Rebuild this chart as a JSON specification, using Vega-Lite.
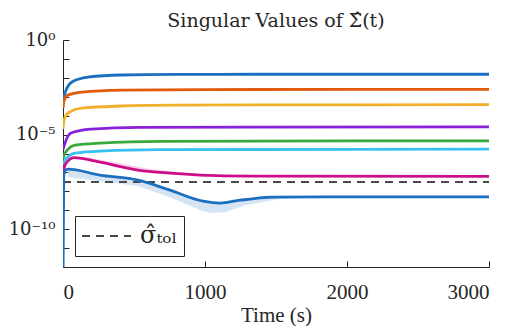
{
  "$schema": "https://vega.github.io/schema/vega-lite/v6.json",
  "width": 426,
  "height": 227,
  "autosize": {"type": "none"},
  "padding": {"left": 63, "top": 40, "right": 24, "bottom": 59},
  "background": "white",
  "config": {
    "view": {"stroke": null},
    "font": "Liberation Serif",
    "axis": {
      "grid": false,
      "domainColor": "#262626",
      "tickColor": "#262626",
      "labelColor": "#262626",
      "titleColor": "#262626",
      "labelFont": "Liberation Serif",
      "titleFont": "Liberation Serif",
      "labelFontSize": 21,
      "titleFontSize": 21,
      "titleFontWeight": "normal",
      "tickSize": -6,
      "domainWidth": 1,
      "tickWidth": 1
    }
  },
  "title": {
    "text": "Singular Values of Σ̂(t)",
    "font": "DejaVu Serif",
    "fontSize": 19,
    "fontWeight": "normal",
    "color": "#262626",
    "offset": 0
  },
  "datasets": {
    "lines": [
      {"series": "s1", "t": 0, "v": 3.98e-4}, {"series": "s1", "t": 14, "v": 1.585e-3}, {"series": "s1", "t": 63, "v": 6.03e-3}, {"series": "s1", "t": 176, "v": 1.096e-2}, {"series": "s1", "t": 415, "v": 1.413e-2}, {"series": "s1", "t": 800, "v": 1.514e-2}, {"series": "s1", "t": 1500, "v": 1.549e-2}, {"series": "s1", "t": 3000, "v": 1.549e-2},
      {"series": "s2", "t": 0, "v": 2.51e-4}, {"series": "s2", "t": 8, "v": 6.31e-4}, {"series": "s2", "t": 35, "v": 1.23e-3}, {"series": "s2", "t": 134, "v": 1.778e-3}, {"series": "s2", "t": 415, "v": 2.239e-3}, {"series": "s2", "t": 1000, "v": 2.399e-3}, {"series": "s2", "t": 3000, "v": 2.455e-3},
      {"series": "s3", "t": 0, "v": 2.0e-5}, {"series": "s3", "t": 8, "v": 6.31e-5}, {"series": "s3", "t": 35, "v": 1.38e-4}, {"series": "s3", "t": 134, "v": 2.51e-4}, {"series": "s3", "t": 415, "v": 3.236e-4}, {"series": "s3", "t": 790, "v": 3.63e-4}, {"series": "s3", "t": 3000, "v": 3.80e-4},
      {"series": "s4", "t": 0, "v": 1.585e-6}, {"series": "s4", "t": 14, "v": 3.55e-6}, {"series": "s4", "t": 56, "v": 1.202e-5}, {"series": "s4", "t": 197, "v": 1.95e-5}, {"series": "s4", "t": 542, "v": 2.40e-5}, {"series": "s4", "t": 3000, "v": 2.57e-5},
      {"series": "s5", "t": 0, "v": 5.0e-7}, {"series": "s5", "t": 14, "v": 1.047e-6}, {"series": "s5", "t": 85, "v": 2.754e-6}, {"series": "s5", "t": 260, "v": 3.548e-6}, {"series": "s5", "t": 700, "v": 4.365e-6}, {"series": "s5", "t": 3000, "v": 4.677e-6},
      {"series": "s6", "t": 0, "v": 2.51e-7}, {"series": "s6", "t": 14, "v": 4.47e-7}, {"series": "s6", "t": 85, "v": 1.047e-6}, {"series": "s6", "t": 260, "v": 1.349e-6}, {"series": "s6", "t": 700, "v": 1.585e-6}, {"series": "s6", "t": 3000, "v": 1.698e-6},
      {"series": "s7", "t": 0, "v": 6.31e-8}, {"series": "s7", "t": 14, "v": 2.455e-7}, {"series": "s7", "t": 77, "v": 6.03e-7}, {"series": "s7", "t": 260, "v": 3.467e-7}, {"series": "s7", "t": 528, "v": 1.318e-7}, {"series": "s7", "t": 754, "v": 9.12e-8}, {"series": "s7", "t": 965, "v": 7.24e-8}, {"series": "s7", "t": 1317, "v": 6.31e-8}, {"series": "s7", "t": 3000, "v": 6.17e-8},
      {"series": "s8", "t": 0, "v": 1e-13}, {"series": "s8", "t": 5, "v": 6.31e-8}, {"series": "s8", "t": 15, "v": 1.26e-7}, {"series": "s8", "t": 35, "v": 1.479e-7}, {"series": "s8", "t": 260, "v": 7.24e-8}, {"series": "s8", "t": 528, "v": 3.89e-8}, {"series": "s8", "t": 754, "v": 1.148e-8}, {"series": "s8", "t": 986, "v": 3.02e-9}, {"series": "s8", "t": 1106, "v": 2.40e-9}, {"series": "s8", "t": 1246, "v": 3.39e-9}, {"series": "s8", "t": 1479, "v": 4.90e-9}, {"series": "s8", "t": 2000, "v": 5.13e-9}, {"series": "s8", "t": 3000, "v": 5.13e-9}
    ],
    "bands": [
      {"band": "b", "t": 35, "lo": 5.62e-8, "hi": 1.66e-7},
      {"band": "b", "t": 260, "lo": 3.47e-8, "hi": 8.13e-8},
      {"band": "b", "t": 528, "lo": 1.905e-8, "hi": 4.37e-8},
      {"band": "b", "t": 754, "lo": 4.90e-9, "hi": 1.288e-8},
      {"band": "b", "t": 986, "lo": 8.91e-10, "hi": 3.39e-9},
      {"band": "b", "t": 1050, "lo": 7.08e-10, "hi": 2.82e-9},
      {"band": "b", "t": 1140, "lo": 7.94e-10, "hi": 2.69e-9},
      {"band": "b", "t": 1280, "lo": 1.862e-9, "hi": 3.80e-9},
      {"band": "b", "t": 1530, "lo": 3.89e-9, "hi": 5.50e-9},
      {"band": "b", "t": 1800, "lo": 5.01e-9, "hi": 5.62e-9},
      {"band": "m", "t": 77, "lo": 5.75e-7, "hi": 6.31e-7},
      {"band": "m", "t": 200, "lo": 3.98e-7, "hi": 5.62e-7},
      {"band": "m", "t": 400, "lo": 2.0e-7, "hi": 3.02e-7},
      {"band": "m", "t": 600, "lo": 1.148e-7, "hi": 1.585e-7},
      {"band": "m", "t": 850, "lo": 7.94e-8, "hi": 9.55e-8},
      {"band": "m", "t": 1100, "lo": 6.76e-8, "hi": 7.08e-8}
    ],
    "tol": [
      {"name": "σ̂ₜₒₗ", "t": 0, "v": 3.162e-8},
      {"name": "σ̂ₜₒₗ", "t": 3000, "v": 3.162e-8}
    ]
  },
  "layer": [
    {
      "data": {"name": "bands"},
      "mark": {"type": "area", "clip": true, "opacity": 0.9},
      "encoding": {
        "x": {"field": "t", "type": "quantitative"},
        "y": {"field": "lo", "type": "quantitative"},
        "y2": {"field": "hi"},
        "detail": {"field": "band"},
        "fill": {"field": "band", "type": "nominal", "scale": {"domain": ["b", "m"], "range": ["#cfe1f3", "#f6cde4"]}, "legend": null}
      }
    },
    {
      "data": {"name": "tol"},
      "mark": {"type": "line", "stroke": "#4a4a4a", "strokeWidth": 2, "clip": true},
      "encoding": {
        "x": {"field": "t", "type": "quantitative"},
        "y": {"field": "v", "type": "quantitative"},
        "strokeDash": {
          "field": "name", "type": "nominal",
          "scale": {"domain": ["σ̂ₜₒₗ"], "range": [[8, 6]]},
          "legend": {
            "title": null,
            "orient": "none",
            "legendX": 12,
            "legendY": 176,
            "strokeColor": "#262626",
            "fillColor": "white",
            "padding": 6,
            "clipHeight": 28,
            "symbolType": "stroke",
            "symbolStrokeColor": "#4a4a4a",
            "symbolStrokeWidth": 2,
            "symbolSize": 2400,
            "labelOffset": 8,
            "labelFont": "DejaVu Serif",
            "labelFontSize": 24,
            "labelColor": "#262626"
          }
        }
      }
    },
    {
      "data": {"name": "lines"},
      "mark": {"type": "line", "strokeWidth": 2.8, "clip": true, "interpolate": "monotone"},
      "encoding": {
        "x": {
          "field": "t", "type": "quantitative",
          "scale": {"domain": [0, 3000], "nice": false},
          "axis": {"values": [0, 1000, 2000, 3000], "format": "d", "title": "Time (s)", "labelPadding": 20, "titlePadding": 2}
        },
        "y": {
          "field": "v", "type": "quantitative",
          "scale": {"type": "log", "domain": [1e-12, 1], "nice": false},
          "axis": {
            "values": [1, 0.1, 0.01, 0.001, 0.0001, 1e-5, 1e-6, 1e-7, 1e-8, 1e-9, 1e-10, 1e-11, 1e-12],
            "labelExpr": "round(log(datum.value)/LN10) == 0 ? '10⁰' : round(log(datum.value)/LN10) == -5 ? '10⁻⁵' : round(log(datum.value)/LN10) == -10 ? '10⁻¹⁰' : ''",
            "labelPadding": 14,
            "labelFont": "DejaVu Serif",
            "labelFontSize": 18,
            "title": null
          }
        },
        "color": {
          "field": "series", "type": "nominal",
          "scale": {"domain": ["s1", "s2", "s3", "s4", "s5", "s6", "s7", "s8"], "range": ["#1a6fc0", "#e05a0a", "#f0b02a", "#8a20d8", "#3aa83a", "#38c0f0", "#cc0f88", "#1a6fc0"]},
          "legend": null
        }
      }
    }
  ]
}
